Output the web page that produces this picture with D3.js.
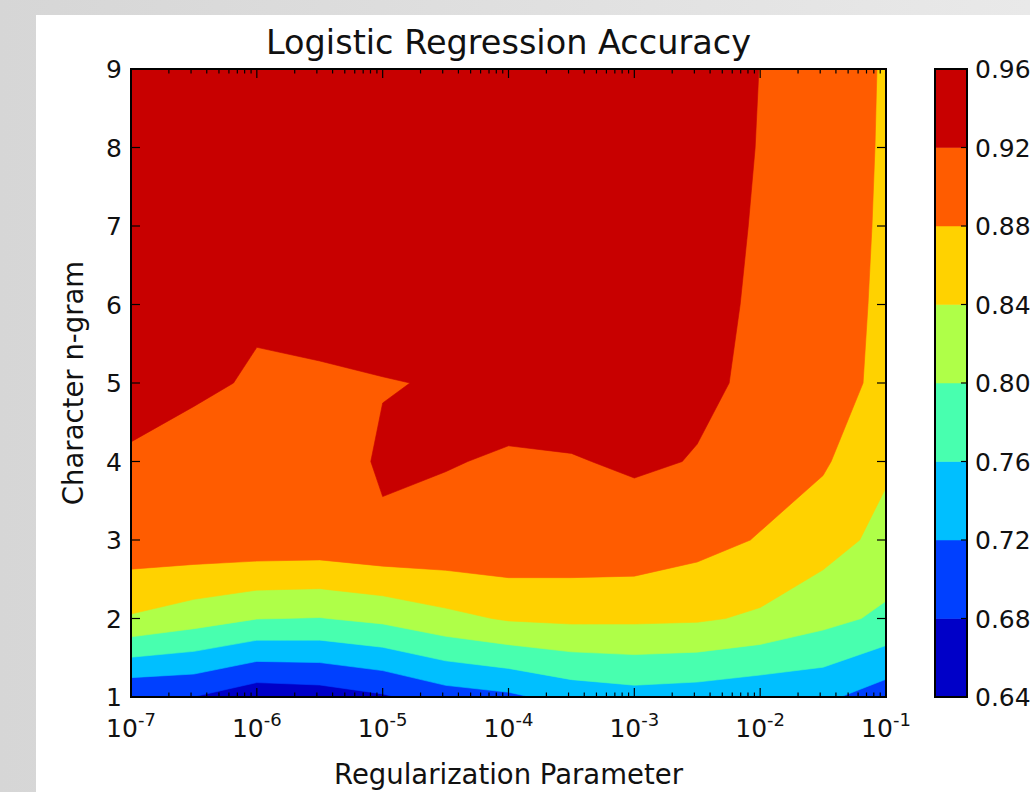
<!DOCTYPE html>
<html><head><meta charset="utf-8">
<script src="https://cdn.jsdelivr.net/npm/d3@7"></script>
<style>
body{margin:0;background:#ddd;}
svg{display:block;}
text{font-family:"DejaVu Sans",sans-serif;fill:#111;}
</style>
</head><body>
<script>
// ---- data ----
// regularization parameter grid (half decades, 1e-7 .. 1e-1)
const regParams = [1e-7, 3.162e-7, 1e-6, 3.162e-6, 1e-5, 3.162e-5, 1e-4, 3.162e-4, 1e-3, 3.162e-3, 1e-2, 3.162e-2, 1e-1];
const nGrams = [1, 2, 3, 4, 5, 6, 7, 8, 9];
// accuracy for each n-gram (row) across regParams
const acc_n1 = [0.682, 0.6795, 0.6528, 0.6586, 0.6747, 0.701, 0.712, 0.735, 0.7446, 0.740, 0.7313, 0.728, 0.699];
const acc_n2 = [0.836, 0.818, 0.801, 0.7986, 0.8093, 0.829, 0.844, 0.848, 0.8472, 0.845, 0.8339, 0.8124, 0.792];
const acc_n3 = [0.906, 0.908, 0.909, 0.9076, 0.9153, 0.912, 0.9132, 0.9095, 0.908, 0.8936, 0.8775, 0.8569, 0.8279];
const acc_n4 = [0.915, 0.912, 0.912, 0.9037, 0.9238, 0.9212, 0.9178, 0.9185, 0.9232, 0.919, 0.900, 0.885, 0.846];
const acc_n5 = [0.935, 0.9234, 0.918, 0.917, 0.9187, 0.9217, 0.9288, 0.933, 0.935, 0.9235, 0.9166, 0.895, 0.8714];
const acc_n6 = [0.942, 0.935, 0.9224, 0.9277, 0.935, 0.940, 0.945, 0.945, 0.945, 0.932, 0.9144, 0.900, 0.872];
const acc_n7 = [0.947, 0.942, 0.935, 0.937, 0.942, 0.947, 0.950, 0.950, 0.950, 0.938, 0.9158, 0.902, 0.8737];
const acc_n8 = [0.950, 0.947, 0.942, 0.944, 0.947, 0.950, 0.953, 0.953, 0.953, 0.942, 0.9181, 0.904, 0.8749];
const acc_n9 = [0.952, 0.950, 0.947, 0.948, 0.950, 0.952, 0.955, 0.955, 0.955, 0.945, 0.9195, 0.905, 0.8758];
const accuracyRows = [acc_n1, acc_n2, acc_n3, acc_n4, acc_n5, acc_n6, acc_n7, acc_n8, acc_n9];

const levels = [0.64, 0.68, 0.72, 0.76, 0.80, 0.84, 0.88, 0.92, 0.96];
const bandColors = ["#0000c8", "#0040ff", "#00bfff", "#48ffaf", "#afff48", "#ffd200", "#ff5c00", "#c80000"];
const xTickExponents = [-7, -6, -5, -4, -3, -2, -1];
const yTicks = [1, 2, 3, 4, 5, 6, 7, 8, 9];
const titleText = "Logistic Regression Accuracy";
const xLabelText = "Regularization Parameter";
const yLabelText = "Character n-gram";

// ---- layout ----
const W = 1030, H = 792;
const px0 = 131, px1 = 886, py0 = 69, py1 = 697;
const cb0 = 935, cb1 = 967;

const svg = d3.select("body").append("svg").attr("width", W).attr("height", H);
const defs = svg.append("defs");
const grad = defs.append("linearGradient").attr("id", "bg").attr("x1", "0").attr("x2", "1").attr("y1", "0").attr("y2", "0");
grad.append("stop").attr("offset", "0").attr("stop-color", "#d6d6d6");
grad.append("stop").attr("offset", "1").attr("stop-color", "#e9e9e9");
svg.append("rect").attr("width", W).attr("height", H).attr("fill", "url(#bg)");
svg.append("rect").attr("x", 36).attr("y", 15).attr("width", W - 36).attr("height", H - 15).attr("fill", "#fff");

defs.append("clipPath").attr("id", "plotclip").append("rect")
  .attr("x", px0).attr("y", py0).attr("width", px1 - px0).attr("height", py1 - py0);

const xScale = d3.scaleLog().domain([1e-7, 1e-1]).range([px0, px1]);
const yScale = d3.scaleLinear().domain([1, 9]).range([py1, py0]);

// ---- contours ----
const nx = regParams.length, ny = nGrams.length;
const grid = [].concat(...accuracyRows);
const contours = d3.contours().size([nx, ny]).thresholds(levels.slice(0, -1))(grid);

const logX = regParams.map(Math.log10);
function interp(arr, c) {
  const n = arr.length;
  const f = Math.max(0, Math.min(n - 1, c - 0.5));
  const k = Math.min(n - 2, Math.floor(f));
  const t = f - k;
  return arr[k] + t * (arr[k + 1] - arr[k]);
}
function toPx(p) {
  return [xScale(Math.pow(10, interp(logX, p[0]))), yScale(interp(nGrams, p[1]))];
}
function ringPath(ring) {
  const pts = ring.map(toPx);
  return "M" + pts.map(d => d[0].toFixed(2) + "," + d[1].toFixed(2)).join("L") + "Z";
}
const gC = svg.append("g").attr("clip-path", "url(#plotclip)");
gC.selectAll("path").data(contours).join("path")
  .attr("d", c => c.coordinates.map(poly => poly.map(ringPath).join("")).join(""))
  .attr("fill", (c, i) => bandColors[i])
  .attr("fill-rule", "evenodd")
  .attr("stroke", (c, i) => bandColors[i]).attr("stroke-width", 0.6);

// ---- axes ----
const minorTicks = xScale.ticks().filter(v => {
  const m = v / Math.pow(10, Math.floor(Math.log10(v) + 1e-9));
  return Math.abs(m - 1) > 1e-6;
});
const majorTicks = xTickExponents.map(e => Math.pow(10, e));
const gT = svg.append("g").attr("stroke", "#000").attr("stroke-width", 1.2);
const MAJ = 9, MIN = 4.5;
majorTicks.forEach(v => {
  const x = xScale(v);
  gT.append("line").attr("x1", x).attr("x2", x).attr("y1", py1).attr("y2", py1 - MAJ);
  gT.append("line").attr("x1", x).attr("x2", x).attr("y1", py0).attr("y2", py0 + MAJ);
});
minorTicks.forEach(v => {
  const x = xScale(v);
  gT.append("line").attr("x1", x).attr("x2", x).attr("y1", py1).attr("y2", py1 - MIN);
  gT.append("line").attr("x1", x).attr("x2", x).attr("y1", py0).attr("y2", py0 + MIN);
});
yTicks.forEach(v => {
  const y = yScale(v);
  gT.append("line").attr("x1", px0).attr("x2", px0 + MAJ).attr("y1", y).attr("y2", y);
  gT.append("line").attr("x1", px1).attr("x2", px1 - MAJ).attr("y1", y).attr("y2", y);
});
svg.append("rect").attr("x", px0).attr("y", py0).attr("width", px1 - px0).attr("height", py1 - py0)
  .attr("fill", "none").attr("stroke", "#000").attr("stroke-width", 2);

const tickFont = 25;
svg.append("g").selectAll("text").data(yTicks).join("text")
  .attr("x", px0 - 9).attr("y", d => yScale(d)).attr("dy", "0.36em")
  .attr("text-anchor", "end").attr("font-size", tickFont).text(d => d);

const xl = svg.append("g").selectAll("text").data(xTickExponents).join("text")
  .attr("x", e => xScale(Math.pow(10, e))).attr("y", 737)
  .attr("text-anchor", "middle").attr("font-size", tickFont);
xl.append("tspan").text("10");
xl.append("tspan").attr("font-size", tickFont * 0.72).attr("dy", -11).text(e => "-" + Math.abs(e));

svg.append("text").attr("x", (px0 + px1) / 2).attr("y", 784).attr("text-anchor", "middle")
  .attr("font-size", 27.5).text(xLabelText);
svg.append("text").attr("transform", `translate(83,${(py0 + py1) / 2}) rotate(-90)`)
  .attr("text-anchor", "middle").attr("font-size", 27.5).text(yLabelText);
svg.append("text").attr("x", (px0 + px1) / 2).attr("y", 54).attr("text-anchor", "middle")
  .attr("font-size", 33.5).text(titleText);

// ---- colorbar ----
const cScale = d3.scaleLinear().domain([levels[0], levels[levels.length - 1]]).range([py1, py0]);
const bands = levels.slice(0, -1).map((l, i) => ({lo: l, hi: levels[i + 1], color: bandColors[i]}));
svg.append("g").selectAll("rect").data(bands).join("rect")
  .attr("x", cb0).attr("width", cb1 - cb0)
  .attr("y", d => cScale(d.hi)).attr("height", d => cScale(d.lo) - cScale(d.hi))
  .attr("fill", d => d.color).attr("stroke", d => d.color).attr("stroke-width", 0.5);
svg.append("g").attr("stroke", "#000").attr("stroke-width", 1.2).selectAll("line").data(levels).join("line")
  .attr("x1", cb1).attr("x2", cb1 - 6).attr("y1", d => cScale(d)).attr("y2", d => cScale(d));
svg.append("rect").attr("x", cb0).attr("y", py0).attr("width", cb1 - cb0).attr("height", py1 - py0)
  .attr("fill", "none").attr("stroke", "#000").attr("stroke-width", 2);
svg.append("g").selectAll("text").data(levels).join("text")
  .attr("x", cb1 + 8).attr("y", d => cScale(d)).attr("dy", "0.36em")
  .attr("font-size", tickFont).text(d => d3.format(".2f")(d));
</script>
</body></html>
